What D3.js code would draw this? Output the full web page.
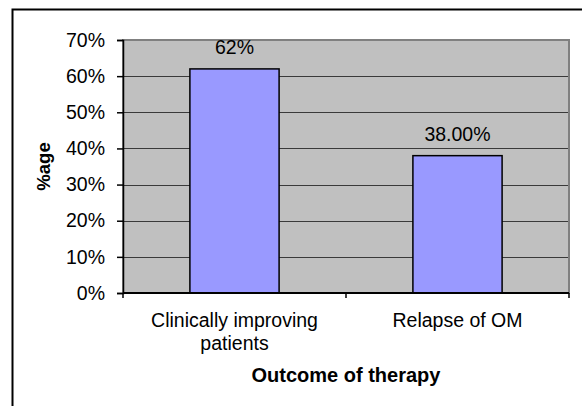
<!DOCTYPE html>
<html>
<head>
<meta charset="utf-8">
<script src="https://cdn.jsdelivr.net/npm/d3@7"></script>
<style>
  html, body { margin: 0; padding: 0; background: #fff; }
  svg { display: block; }
  text { font-family: "Liberation Sans", Arial, sans-serif; fill: #000; }
</style>
</head>
<body>
<svg id="chart" width="582" height="406"></svg>
<script>
// Outcome of therapy, share of patients
const categories = ["Clinically improving\npatients", "Relapse of OM"];
const values = [0.62, 0.38];
const valueLabels = ["62%", "38.00%"];
const yTicks = [0, 0.1, 0.2, 0.3, 0.4, 0.5, 0.6, 0.7];
const yTitle = "%age";
const xTitle = "Outcome of therapy";

const svg = d3.select("#chart");
const W = 582, H = 406;
const plot = { left: 123, right: 569, top: 40, bottom: 293 };

// outer chart frame (runs past the right and bottom edges)
svg.append("rect")
  .attr("x", 12.5).attr("y", 9.5)
  .attr("width", W).attr("height", H)
  .attr("fill", "#fff").attr("stroke", "#000").attr("stroke-width", 2);

const x = d3.scaleBand()
  .domain(categories)
  .range([plot.left, plot.right])
  .paddingInner(0.6).paddingOuter(0.3);

const xCat = d3.scaleBand()
  .domain(categories)
  .range([plot.left, plot.right]);

const y = d3.scaleLinear()
  .domain([0, 0.7])
  .range([plot.bottom, plot.top]);

// plot area
svg.append("rect")
  .attr("x", plot.left).attr("y", plot.top)
  .attr("width", plot.right - plot.left).attr("height", plot.bottom - plot.top)
  .attr("fill", "#c0c0c0");

// gridlines
svg.append("g")
  .selectAll("line")
  .data(yTicks.filter(t => t > 0 && t < 0.7))
  .join("line")
  .attr("x1", plot.left).attr("x2", plot.right)
  .attr("y1", d => Math.round(y(d)) + 0.5).attr("y2", d => Math.round(y(d)) + 0.5)
  .attr("stroke", "#3a3a3a").attr("stroke-width", 1);

// plot border
svg.append("rect")
  .attr("x", plot.left).attr("y", plot.top)
  .attr("width", plot.right - plot.left).attr("height", plot.bottom - plot.top)
  .attr("fill", "none").attr("stroke", "#808080").attr("stroke-width", 2);

// bars
svg.append("g")
  .selectAll("rect")
  .data(values)
  .join("rect")
  .attr("x", (d, i) => x(categories[i]))
  .attr("y", d => y(d))
  .attr("width", x.bandwidth())
  .attr("height", d => y(0) - y(d))
  .attr("fill", "#9999ff")
  .attr("stroke", "#000").attr("stroke-width", 1.5);

// value labels
svg.append("g")
  .selectAll("text")
  .data(values)
  .join("text")
  .attr("x", (d, i) => x(categories[i]) + x.bandwidth() / 2)
  .attr("y", d => y(d) - 14.5)
  .attr("text-anchor", "middle")
  .style("font-size", "19.5px")
  .text((d, i) => valueLabels[i]);

// y axis
const yAxis = d3.axisLeft(y)
  .tickValues(yTicks)
  .tickFormat(d3.format(".0%"))
  .tickSize(6).tickPadding(12);
const gy = svg.append("g")
  .attr("transform", `translate(${plot.left},0)`)
  .call(yAxis);
gy.select(".domain").attr("stroke", "#000").attr("stroke-width", 1.5);
gy.selectAll(".tick line").attr("stroke", "#000").attr("stroke-width", 1.5);
gy.selectAll(".tick text")
  .style("font-family", '"Liberation Sans", Arial, sans-serif')
  .style("font-size", "19.5px").attr("fill", "#000");

// x axis: category boundary ticks
const gx = svg.append("g");
gx.append("line")
  .attr("x1", plot.left).attr("x2", plot.right)
  .attr("y1", plot.bottom).attr("y2", plot.bottom)
  .attr("stroke", "#000").attr("stroke-width", 2);
const bounds = categories.map(c => xCat(c)).concat([plot.right]);
gx.selectAll("line.tk")
  .data(bounds)
  .join("line").attr("class", "tk")
  .attr("x1", d => d).attr("x2", d => d)
  .attr("y1", plot.bottom).attr("y2", plot.bottom + 5)
  .attr("stroke", "#000").attr("stroke-width", 1.5);

// category labels
const catText = gx.selectAll("text.cat")
  .data(categories)
  .join("text").attr("class", "cat")
  .attr("text-anchor", "middle")
  .style("font-size", "19.5px");
catText.each(function(d) {
  const t = d3.select(this);
  const cx = xCat(d) + xCat.bandwidth() / 2;
  d.split("\n").forEach((line, i) => {
    t.append("tspan")
      .attr("x", cx)
      .attr("y", 327 + i * 22.5)
      .text(line);
  });
});

// axis titles
svg.append("text")
  .attr("x", (plot.left + plot.right) / 2)
  .attr("y", 382)
  .attr("text-anchor", "middle")
  .style("font-size", "20px").style("font-weight", "bold")
  .text(xTitle);

svg.append("text")
  .attr("transform", `translate(50,${(plot.top + plot.bottom) / 2}) rotate(-90)`)
  .attr("text-anchor", "middle")
  .style("font-size", "18.5px").style("font-weight", "bold")
  .text(yTitle);
</script>
</body>
</html>
